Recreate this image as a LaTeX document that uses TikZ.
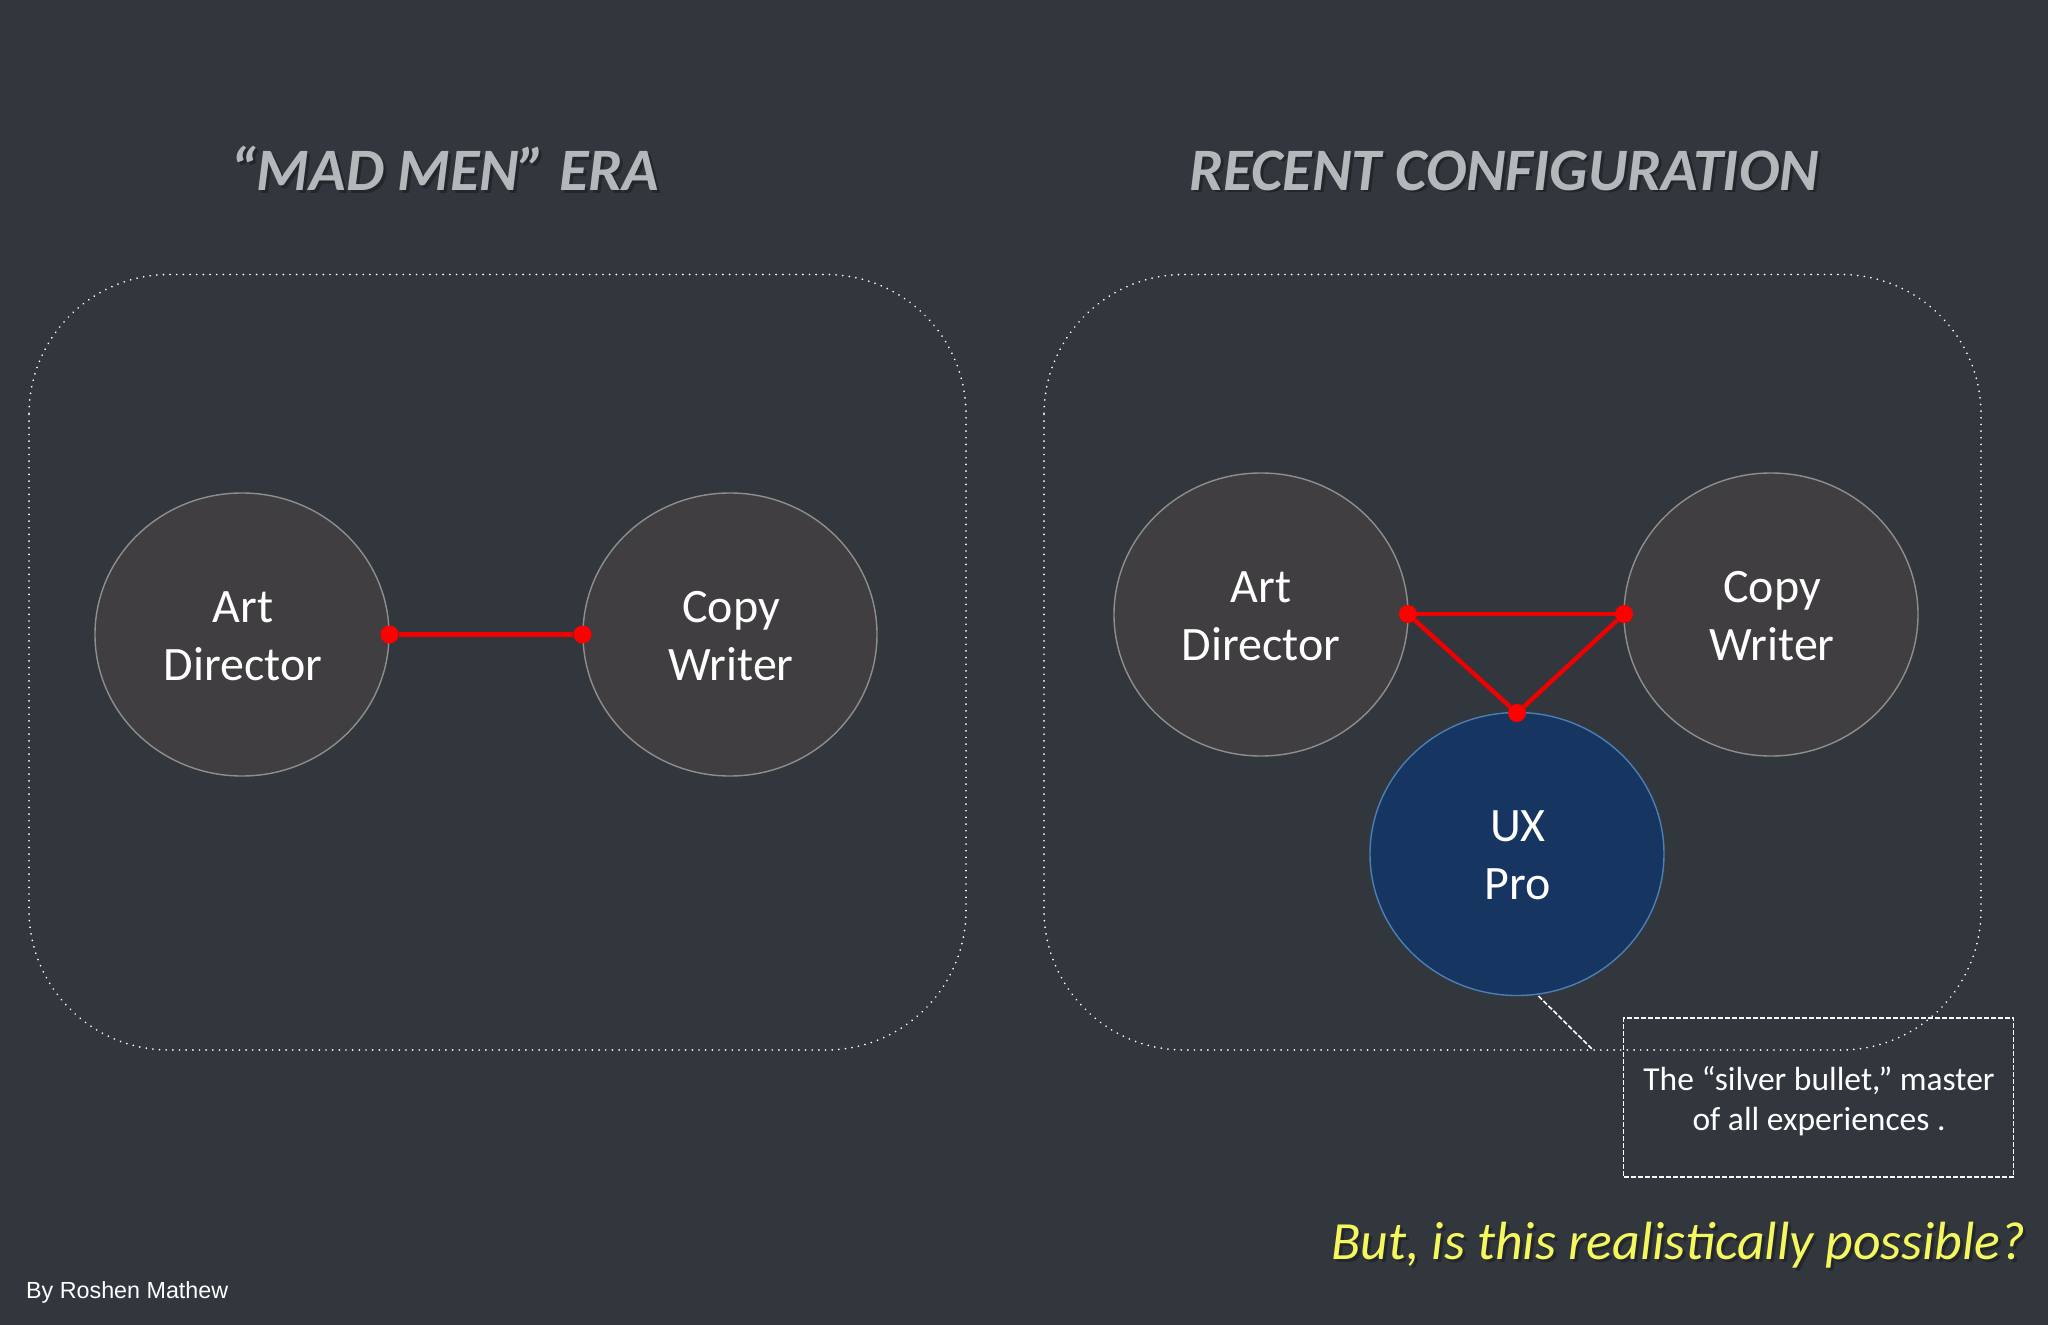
\documentclass[tikz,border=0pt]{standalone}
\usepackage{fontspec}
\usetikzlibrary{shapes.geometric}
\setmainfont{Carlito}
\newfontfamily\bylinefont{Liberation Sans}
\definecolor{bgc}{HTML}{32373E}
\definecolor{circ}{HTML}{403E40}
\definecolor{circline}{HTML}{8E8E8C}
\definecolor{uxfill}{HTML}{163560}
\definecolor{uxline}{HTML}{4A7FB5}
\definecolor{titlec}{HTML}{B4B8BB}
\definecolor{yell}{HTML}{F4F75E}
\definecolor{shadowc}{HTML}{23272C}
\definecolor{redc}{HTML}{F00000}
\newcommand{\fs}[2]{\fontsize{#1pt}{#2pt}\selectfont}
\tikzset{
  x=1pt,y=-1pt,
  framebox/.style={draw=white,line width=1.9pt,line cap=round,dash pattern=on 0.01pt off 6.65pt,rounded corners=140pt},
  person/.style={ellipse,draw=circline,line width=1.4pt,fill=circ,minimum width=294pt,minimum height=283pt,inner sep=0pt},
  uxperson/.style={person,draw=uxline,fill=uxfill},
  roletext/.style={text=white,align=center,font=\fs{48}{58},inner sep=0pt},
  titletext/.style={font=\bfseries\itshape\fs{60.3}{70},inner sep=0pt},
  tie/.style={draw=redc,line width=4.4pt},
  joint/.style={circle,fill=red,minimum size=18pt,inner sep=0pt},
  callout/.style={draw=white,line width=1.6pt,dash pattern=on 5pt off 2pt},
  calltxt/.style={text=white,align=center,font=\fs{33.5}{40},inner sep=0pt},
  asktext/.style={font=\itshape\fs{53.8}{60},inner sep=0pt},
}
\begin{document}
\begin{tikzpicture}
\fill[bgc] (0,0) rectangle (2048,1325);
\useasboundingbox (0,0) rectangle (2048,1325);
% frames
\draw[framebox] (29,274.5) rectangle (966,1050);
\draw[framebox] (1044,274.5) rectangle (1981,1050);
% titles with shadows
\node[titletext,text=shadowc] (t1s) at (448,171) {“MAD MEN” ERA};
\node[titletext,text=titlec] (t1) at (445,168.5) {“MAD MEN” ERA};
\node[titletext,text=shadowc] (t2s) at (1507,173) {RECENT CONFIGURATION};
\node[titletext,text=titlec] (t2) at (1504,170.5) {RECENT CONFIGURATION};
% left group
\node[person] (ad1) at (242,634.5) {};
\node[person] (cw1) at (730,634.5) {};
\node[roletext] (ad1t) at (243,636) {Art\\Director};
\node[roletext] (cw1t) at (731,636) {Copy\\Writer};
% right group
\node[person] (ad2) at (1261,614.5) {};
\node[person] (cw2) at (1771,614.5) {};
\node[uxperson] (ux) at (1517,854) {};
\node[roletext] (ad2t) at (1261,616) {Art\\Director};
\node[roletext] (cw2t) at (1772,616) {Copy\\Writer};
\node[roletext] (uxt) at (1518,855.5) {UX\\Pro};
% red joints
\node[joint] (j1) at (389.5,634.5) {};
\node[joint] (j2) at (582.5,634.5) {};
\node[joint] (j3) at (1408,614) {};
\node[joint] (j4) at (1624,614) {};
\node[joint] (j5) at (1517,713) {};
\draw[tie] (j1) -- (j2);
\draw[tie] (j3) -- (j4);
\draw[tie] (j3) -- (j5);
\draw[tie] (j4) -- (j5);
% callout
\node[callout,minimum width=390pt,minimum height=159pt,inner sep=0pt] (box) at (1818.5,1097.5) {};
\node[calltxt] (boxt) at (1819,1101) {The “silver bullet,” master\\of all experiences .};
\coordinate (lead1) at (1538.5,996);
\coordinate (lead2) at (1592,1049);
\draw[callout] (lead1) -- (lead2);
% closing question
\node[asktext,text=shadowc] (asks) at (1681.5,1248) {But, is this realistically possible?};
\node[asktext,text=yell] (ask) at (1678.5,1245) {But, is this realistically possible?};
% byline
\node[anchor=west,text=white,font=\bylinefont\fs{23.3}{28},inner sep=0pt] (by) at (26,1292.5) {By Roshen Mathew};
\end{tikzpicture}
\end{document}
